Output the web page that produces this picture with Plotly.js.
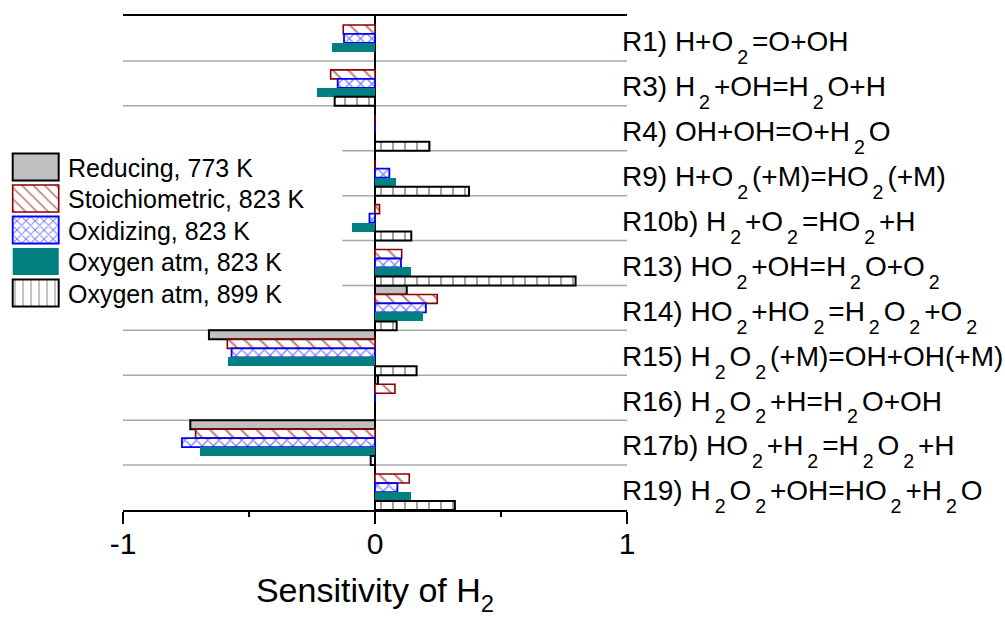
<!DOCTYPE html>
<html><head><meta charset="utf-8">
<script src="https://cdn.plot.ly/plotly-3.0.1.min.js"></script>
<style>html,body{margin:0;padding:0;background:#fff}#chart{width:1005px;height:621px}</style>
</head><body><div id="chart"></div>
<script>
const FONT = 'Arial, "Liberation Sans", sans-serif';

// reaction labels ("_2" marks a subscript 2)
const reactionNames = [
  'R1) H+O_2=O+OH',
  'R3) H_2+OH=H_2O+H',
  'R4) OH+OH=O+H_2O',
  'R9) H+O_2(+M)=HO_2(+M)',
  'R10b) H_2+O_2=HO_2+H',
  'R13) HO_2+OH=H_2O+O_2',
  'R14) HO_2+HO_2=H_2O_2+O_2',
  'R15) H_2O_2(+M)=OH+OH(+M)',
  'R16) H_2O_2+H=H_2O+OH',
  'R17b) HO_2+H_2=H_2O_2+H',
  'R19) H_2O_2+OH=HO_2+H_2O'
];

const seriesNames = [
  'Reducing, 773 K',
  'Stoichiometric, 823 K',
  'Oxidizing, 823 K',
  'Oxygen atm, 823 K',
  'Oxygen atm, 899 K'
];

const reducing773  = [0, 0, 0, 0, 0, 0, 0.126, -0.659, 0.012, -0.733, 0];
const stoich823    = [-0.126, -0.176, 0, 0, 0.018, 0.106, 0.247, -0.586, 0.079, -0.712, 0.136];
const oxidizing823 = [-0.123, -0.148, 0, 0.057, -0.022, 0.103, 0.202, -0.569, 0, -0.766, 0.089];
const oxygen823    = [-0.172, -0.231, 0, 0.083, -0.093, 0.141, 0.192, -0.582, 0, -0.694, 0.141];
const oxygen899    = [0, -0.160, 0.216, 0.373, 0.144, 0.796, 0.086, 0.165, 0, -0.017, 0.317];

const xTickVals = [-1, 0, 1];
const xTickText = ['-1', '0', '1'];
const xMinorVals = [-0.5, 0.5];

const SUB2 = '<sub>\u2009' + '2' + '\u2009</sub>';
const reactions = reactionNames.map(s => s.replace(/_2/g, SUB2));

const base = {type: 'bar', orientation: 'h', y: reactions, hoverinfo: 'skip'};
const traces = [
  Object.assign({}, base, {name: seriesNames[0], x: reducing773,
    marker: {color: '#c0c0c0', line: {color: '#000000', width: 2}}}),
  Object.assign({}, base, {name: seriesNames[1], x: stoich823,
    marker: {color: '#ffffff', line: {color: '#8b0000', width: 1.6},
      pattern: {shape: '\\', fgcolor: '#8b0000', bgcolor: '#ffffff', size: 11, solidity: 0.2, fillmode: 'overlay'}}}),
  Object.assign({}, base, {name: seriesNames[2], x: oxidizing823,
    marker: {color: '#ffffff', line: {color: '#0000ff', width: 1.8},
      pattern: {shape: 'x', fgcolor: '#0000ff', bgcolor: '#ffffff', size: 8, solidity: 0.3, fillmode: 'overlay'}}}),
  Object.assign({}, base, {name: seriesNames[3], x: oxygen823,
    marker: {color: '#008080', line: {color: '#008080', width: 0}}}),
  Object.assign({}, base, {name: seriesNames[4], x: oxygen899,
    marker: {color: '#ffffff', line: {color: '#000000', width: 2},
      pattern: {shape: '|', fgcolor: '#000000', bgcolor: '#ffffff', size: 12, solidity: 0.12, fillmode: 'overlay'}}})
];

// separator lines on category boundaries; those behind the legend start further right
const shapes = [];
for (let i = 0; i < reactions.length - 1; i++) {
  const b = i + 0.5;
  const behindLegend = (i >= 2 && i <= 5);
  shapes.push({type: 'line', xref: 'x', yref: 'y', x0: behindLegend ? -0.13 : -1, x1: 1, y0: b, y1: b,
    line: {color: '#a8a8a8', width: 1.5}, layer: 'below'});
}

const layout = {
  width: 1005, height: 621,
  margin: {l: 123, r: 378, t: 16, b: 111, pad: 0, autoexpand: false},
  paper_bgcolor: '#ffffff', plot_bgcolor: '#ffffff',
  font: {family: FONT, color: '#000000'},
  barmode: 'group', bargap: 0, bargroupgap: 0,
  showlegend: true,
  legend: {x: -0.234, y: 0.73, xanchor: 'left', yanchor: 'top', bgcolor: 'rgba(0,0,0,0)',
    borderwidth: 0, font: {size: 25, family: FONT}, itemwidth: 50, traceorder: 'normal'},
  xaxis: {
    range: [-1, 1], tickmode: 'array', tickvals: xTickVals, ticktext: xTickText,
    ticks: 'outside', ticklen: 12, tickwidth: 2, tickcolor: '#000',
    minor: {tickmode: 'array', tickvals: xMinorVals, ticks: 'outside', ticklen: 5, tickwidth: 2, tickcolor: '#000', showgrid: false},
    showline: true, mirror: true, linecolor: '#000', linewidth: 2,
    zeroline: true, zerolinecolor: '#000', zerolinewidth: 2.5,
    showgrid: false, tickfont: {size: 30, family: FONT}, ticklabelstandoff: -6,
    title: {text: 'Sensitivity of H<sub>2</sub>', font: {size: 34, family: FONT}, standoff: 19},
    fixedrange: true
  },
  yaxis: {
    type: 'category', range: [10.5, -0.5], side: 'right',
    showgrid: false, zeroline: false, showline: false, ticks: '',
    tickfont: {size: 28, family: FONT}, ticklabelstandoff: -6, ticklabelshift: -3,
    automargin: false, fixedrange: true
  },
  shapes: shapes
};

function lowerSubs(selector, k) {
  gd.querySelectorAll(selector).forEach(ts => {
    const dyA = ts.getAttribute('dy');
    if (dyA && /em$/.test(dyA)) ts.setAttribute('dy', (parseFloat(dyA) * k).toFixed(3) + 'em');
  });
}

const gd = document.getElementById('chart');
Plotly.newPlot(gd, traces, layout, {staticPlot: true, displayModeBar: false}).then(() => {
  // legend: larger rectangular swatches, tighter rows
  const items = gd.querySelectorAll('.legend .traces');
  items.forEach((tr, i) => {
    const path = tr.querySelector('.legendpoints path');
    const text = tr.querySelector('.legendtext');
    if (!path || !text) return;
    path.setAttribute('d', 'M-23,-13.5H23V13.5H-23Z');
    const r = path.getBoundingClientRect();
    const dx = 35.7 - (r.left + r.width / 2);
    const dy = (167 + 31.5 * i) - (r.top + r.height / 2);
    path.setAttribute('d', 'M' + (-23 + dx) + ',-13.5H' + (23 + dx) + 'V13.5H' + (-23 + dx) + 'Z');
    const m = /translate\(([-\d.e]+)[ ,]+([-\d.e]+)\)/.exec(tr.getAttribute('transform') || '');
    const tx = m ? +m[1] : 0, ty = m ? +m[2] : 0;
    tr.setAttribute('transform', 'translate(' + tx + ',' + (ty + dy) + ')');
    const t2 = text.getBoundingClientRect();
    text.setAttribute('x', (+text.getAttribute('x') || 0) + (68 - t2.left));
  });
  // lower the subscripts a little more, as in the original figure
  lowerSubs('.ytick text tspan', 2.2);
  lowerSubs('.xtitle tspan', 1.4);
});
</script>
</body></html>
